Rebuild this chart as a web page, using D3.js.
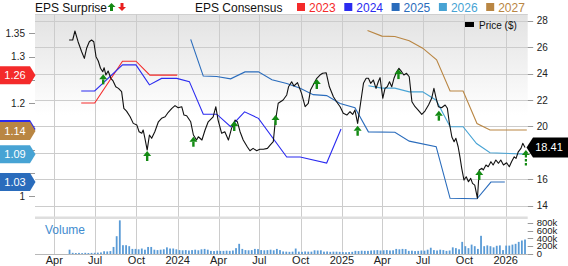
<!DOCTYPE html>
<html>
<head>
<meta charset="utf-8">
<script src="https://cdn.jsdelivr.net/npm/d3@7"></script>
<style>
  body { margin: 0; background: #fff; }
  svg text { font-family: "Liberation Sans", Arial, sans-serif; }
</style>
</head>
<body>
<div id="chart"></div>
<script>
// price (weekly-ish closes)
const priceDates = ["2023-05-04","2023-05-12","2023-05-17","2023-05-24","2023-06-01","2023-06-07","2023-06-12","2023-06-18","2023-06-23","2023-06-28",
  "2023-07-03","2023-07-08","2023-07-13","2023-07-18","2023-07-21","2023-07-25","2023-07-30","2023-08-05","2023-08-10","2023-08-16",
  "2023-08-22","2023-08-29","2023-09-03","2023-09-09","2023-09-17","2023-09-24","2023-10-02","2023-10-07","2023-10-13","2023-10-16",
  "2023-10-20","2023-10-25","2023-10-30","2023-11-04","2023-11-11","2023-11-19","2023-11-26","2023-12-04","2023-12-11","2023-12-19",
  "2023-12-26","2024-01-02","2024-01-10","2024-01-15","2024-01-21","2024-01-30","2024-02-05","2024-02-12","2024-02-16","2024-02-24",
  "2024-03-02","2024-03-09","2024-03-20","2024-03-26","2024-03-31","2024-04-08","2024-04-15","2024-04-23","2024-04-30","2024-05-08",
  "2024-05-13","2024-05-19","2024-05-26","2024-06-04","2024-06-10","2024-06-17","2024-06-25","2024-07-02","2024-07-10","2024-07-19",
  "2024-07-25","2024-08-01","2024-08-05","2024-08-12","2024-08-23","2024-08-31","2024-09-04","2024-09-11","2024-09-16","2024-09-24",
  "2024-10-03","2024-10-11","2024-10-18","2024-10-23","2024-10-31","2024-11-06","2024-11-13","2024-11-19","2024-11-27","2024-12-04",
  "2024-12-13","2024-12-20","2024-12-28","2025-01-04","2025-01-12","2025-01-19","2025-01-25","2025-01-30","2025-02-05","2025-02-12",
  "2025-02-18","2025-02-24","2025-03-01","2025-03-06","2025-03-12","2025-03-18","2025-03-23","2025-03-27","2025-04-02","2025-04-07",
  "2025-04-12","2025-04-17","2025-04-22","2025-04-27","2025-05-03","2025-05-08","2025-05-14","2025-05-19","2025-05-25","2025-05-31",
  "2025-06-06","2025-06-13","2025-06-20","2025-06-28","2025-07-05","2025-07-13","2025-07-20","2025-07-25","2025-07-30","2025-08-04",
  "2025-08-11","2025-08-19","2025-08-24","2025-08-28","2025-09-03","2025-09-08","2025-09-12","2025-09-17","2025-09-21","2025-09-25",
  "2025-09-30","2025-10-05","2025-10-10","2025-10-15","2025-10-19","2025-10-24","2025-10-30","2025-11-03","2025-11-09","2025-11-12",
  "2025-11-18","2025-11-23","2025-11-29","2025-12-04","2025-12-10","2025-12-16","2025-12-21","2025-12-27","2026-01-03","2026-01-09",
  "2026-01-14","2026-01-20","2026-01-24","2026-01-29","2026-02-04","2026-02-08","2026-02-13"];
const priceValues = [26.54,26.54,27.22,26.41,25.65,25.15,25.91,26.41,26.54,26.41,
  25.28,24.95,24.40,24.14,24.44,23.89,24.19,23.64,23.44,23.00,
  22.88,22.63,21.37,21.16,20.73,20.23,20.10,19.60,19.48,19.73,
  19.10,18.21,19.35,19.10,19.60,20.35,20.61,20.73,21.07,21.37,
  21.57,21.41,21.49,20.86,20.81,20.35,19.35,18.97,19.22,18.97,
  19.73,20.35,20.73,21.49,20.48,19.48,19.60,18.97,19.85,20.48,
  20.35,19.60,18.97,18.46,18.16,18.34,18.16,18.27,18.27,18.34,
  18.59,18.84,20.23,21.75,22.00,22.38,23.00,23.38,23.06,23.31,
  22.50,21.49,21.75,22.75,23.26,23.64,23.89,24.02,24.06,23.00,
  22.25,21.87,21.49,20.99,20.86,21.11,20.91,21.24,20.23,21.87,
  23.26,23.64,23.64,23.26,23.51,22.88,23.38,23.69,22.13,22.88,
  23.00,23.38,23.00,23.64,24.14,24.40,24.14,23.89,24.02,23.76,
  21.87,21.49,21.24,20.91,21.16,21.62,22.13,22.88,22.13,21.49,
  21.41,21.62,21.37,20.35,19.20,18.84,19.10,18.46,17.70,16.83,
  15.94,16.19,15.81,16.07,15.69,15.56,14.56,16.70,16.83,16.70,
  17.08,16.95,17.33,17.08,17.46,17.21,17.46,17.08,17.25,16.95,
  17.33,17.70,17.58,18.08,18.34,18.72,18.41];
const lastPrice = 18.41;

// EPS consensus revisions per fiscal year
const eps2023Dates = ["2023-05-31","2023-06-30","2023-08-31","2023-09-30","2023-10-31","2023-12-31"];
const eps2023 = [1.20,1.20,1.29,1.29,1.26,1.26];
const eps2024Dates = ["2023-05-31","2023-06-30","2023-08-31","2023-09-30","2023-10-30","2023-11-26","2023-12-30","2024-01-27","2024-02-27",
  "2024-03-28","2024-04-28","2024-05-29","2024-06-29","2024-08-31","2024-09-30","2024-11-28","2024-12-30"];
const eps2024 = [1.226,1.226,1.282,1.282,1.239,1.253,1.253,1.246,1.176,1.176,1.149,1.181,1.167,1.084,1.084,1.071,1.144];
const eps2025Dates = ["2024-01-30","2024-02-27","2024-03-28","2024-04-28","2024-05-30","2024-06-29","2024-07-29","2024-08-31","2024-09-30",
  "2024-10-29","2024-11-28","2024-12-28","2025-01-30","2025-03-01","2025-04-29","2025-05-31","2025-07-30","2025-08-30","2025-10-29",
  "2025-11-29","2025-12-30"];
const eps2025 = [1.337,1.258,1.257,1.252,1.267,1.267,1.25,1.242,1.232,1.218,1.216,1.199,1.19,1.138,1.137,1.118,1.106,0.995,0.994,1.03,1.03];
const eps2026Dates = ["2025-03-01","2025-03-31","2025-04-29","2025-05-31","2025-06-30","2025-07-30","2025-08-30","2025-09-28","2025-10-28",
  "2025-11-27","2026-02-17"];
const eps2026 = [1.237,1.232,1.232,1.224,1.224,1.206,1.149,1.149,1.113,1.093,1.09];
const eps2027Dates = ["2025-02-27","2025-03-31","2025-04-29","2025-05-31","2025-06-30","2025-07-31","2025-08-30","2025-09-28","2025-10-29",
  "2025-11-27","2026-02-17"];
const eps2027 = [1.356,1.344,1.343,1.334,1.318,1.293,1.226,1.226,1.156,1.142,1.142];

const seriesYears = ["2023","2024","2025","2026","2027"];
const seriesColors = ["#f42a2a","#2b2bf0","#2a6cbc","#47a3d4","#b98643"];

// latest consensus badges (drawn in this order; the 2024 one sits under 2027)
const badgeYears = ["2023","2024","2027","2026","2025"];
const badgeValues = [1.26,1.144,1.14,1.09,1.03];
const badgeLabels = ["1.26","1.14","1.14","1.09","1.03"];

// EPS beats (price level at report)
const surpriseDates = ["2023-07-19","2023-10-25","2024-02-05","2024-05-06","2024-08-06","2024-11-06","2025-02-05","2025-05-07","2025-08-05","2025-11-03"];
const surprisePrices = [23.94,18.14,19.22,20.41,20.86,23.59,20.05,24.34,21.19,16.70];
const nextReportDate = "2026-02-15";
const nextReportPrice = 18.21;

// weekly volume, starting week of 2023-05-05 (thousands)
const volumeStart = "2023-05-05";
const volumeK = [110,30,25,28,22,30,25,28,30,35,
  40,70,65,75,180,455,860,225,225,200,
  130,130,120,140,110,180,180,110,100,110,
  120,170,140,140,120,100,95,100,90,100,
  110,95,120,130,110,80,75,85,80,80,
  85,80,90,150,260,130,100,95,100,130,
  125,100,95,100,110,95,130,100,65,60,
  55,60,140,60,55,65,60,60,95,90,
  95,60,65,55,60,60,55,50,45,50,
  55,80,75,85,80,80,90,95,100,90,
  95,100,90,95,130,120,130,125,80,85,
  75,80,90,85,110,160,100,90,110,100,
  80,90,170,150,120,310,200,150,240,200,
  130,465,200,220,200,170,210,220,100,215,
  215,240,260,310,345,370];

// axes
const xTickDates = ["2023-04-01","2023-07-01","2023-10-01","2024-01-01","2024-04-01","2024-07-01","2024-10-01","2025-01-01",
  "2025-04-01","2025-07-01","2025-10-01","2026-01-01"];
const xTickLabels = ["Apr","Jul","Oct","2024","Apr","Jul","Oct","2025","Apr","Jul","Oct","2026"];
const priceTicks = [14,16,18,20,22,24,26,28];
const epsTicks = [1,1.05,1.1,1.15,1.2,1.25,1.3,1.35];
const volTicks = [0,200000,400000,600000,800000];
const volTickLabels = ["0","200k","400k","600k","800k"];

const width = 568, height = 266;
const plotL = 35, plotR = 527.7, plotT = 14;
const parse = d3.timeParse("%Y-%m-%d");

const svg = d3.select("#chart").append("svg")
  .attr("width", width).attr("height", height);

const x = d3.scaleTime()
  .domain([parse("2023-02-17"), parse("2026-02-19")])
  .range([plotL, plotR]);
const yPrice = d3.scaleLinear().domain([14, 28]).range([205.7, 20.7]);
const yEps = d3.scaleLinear().domain([1, 1.35]).range([196, 33.3]);
const yVol = d3.scaleLinear().domain([0, 800000]).range([254, 222.7]);

// background
const grad = svg.append("defs").append("linearGradient")
  .attr("id", "bg").attr("x1", 0).attr("y1", 0).attr("x2", 0).attr("y2", 1);
grad.append("stop").attr("offset", 0).attr("stop-color", "#e2e2e2");
grad.append("stop").attr("offset", 0.5).attr("stop-color", "#ffffff");

svg.append("rect").attr("x", plotL).attr("y", plotT)
  .attr("width", plotR - plotL).attr("height", 202)
  .attr("fill", "url(#bg)");
svg.append("line").attr("x1", plotL).attr("x2", plotR).attr("y1", plotT + 0.5).attr("y2", plotT + 0.5)
  .attr("stroke", "#cfcfcf");

// grid
svg.append("g").selectAll("line").data(priceTicks).join("line")
  .attr("x1", plotL).attr("x2", plotR)
  .attr("y1", d => Math.round(yPrice(d)) + 0.5).attr("y2", d => Math.round(yPrice(d)) + 0.5)
  .attr("stroke", "#cccccc");
svg.append("g").selectAll("line").data(xTickDates).join("line")
  .attr("x1", d => Math.round(x(parse(d))) + 0.5).attr("x2", d => Math.round(x(parse(d))) + 0.5)
  .attr("y1", plotT).attr("y2", 254)
  .attr("stroke", "#cccccc");

// volume panel separator
svg.append("rect").attr("x", plotL).attr("y", 216.5).attr("width", plotR - plotL).attr("height", 2.5)
  .attr("fill", "#dedede");
svg.append("line").attr("x1", plotL).attr("x2", plotR).attr("y1", 254.5).attr("y2", 254.5)
  .attr("stroke", "#b8b8b8");

// volume bars
const vStart = parse(volumeStart);
svg.append("g").selectAll("rect").data(volumeK).join("rect")
  .attr("x", (d, i) => x(d3.timeWeek.offset(vStart, i)) - 0.9)
  .attr("width", 1.8)
  .attr("y", d => yVol(d * 1000))
  .attr("height", d => yVol(0) - yVol(d * 1000))
  .attr("fill", "#5a9bd6");

svg.append("text").attr("x", 45).attr("y", 233.5)
  .attr("font-size", 12).attr("fill", "#3f8ccf").text("Volume");

// EPS consensus lines
const epsSeries = [
  [eps2023Dates, eps2023], [eps2024Dates, eps2024], [eps2025Dates, eps2025],
  [eps2026Dates, eps2026], [eps2027Dates, eps2027]
];
const epsLine = d3.line().x(d => x(d[0])).y(d => yEps(d[1]));
epsSeries.forEach(([dates, vals], k) => {
  svg.append("path")
    .datum(dates.map((d, i) => [parse(d), vals[i]]))
    .attr("fill", "none")
    .attr("stroke", seriesColors[k])
    .attr("stroke-width", 1.1)
    .attr("d", epsLine);
});

// price line
const priceLine = d3.line().x(d => x(d[0])).y(d => yPrice(d[1]));
svg.append("path")
  .datum(priceDates.map((d, i) => [parse(d), priceValues[i]]))
  .attr("fill", "none").attr("stroke", "#111")
  .attr("stroke-width", 1.1).attr("stroke-linejoin", "round")
  .attr("d", priceLine);

// surprise arrows
function upArrow(g, cx, tip, dashed) {
  g.append("path")
    .attr("d", `M${cx},${tip}L${cx + 4},${tip + 5}H${cx - 4}Z`)
    .attr("fill", "#138a13");
  if (dashed) {
    g.append("line").attr("x1", cx).attr("x2", cx).attr("y1", tip + 5).attr("y2", tip + 17)
      .attr("stroke", "#138a13").attr("stroke-width", 2.2).attr("stroke-dasharray", "2.5,1.5");
  } else {
    g.append("rect").attr("x", cx - 1.2).attr("y", tip + 5).attr("width", 2.4).attr("height", 5)
      .attr("fill", "#138a13");
  }
}
const arrows = svg.append("g");
surpriseDates.forEach((d, i) => upArrow(arrows, x(parse(d)), yPrice(surprisePrices[i]), false));
upArrow(arrows, x(parse(nextReportDate)), yPrice(nextReportPrice), true);

// right price axis (label under the last-price badge stays hidden)
const py = yPrice(lastPrice);
const rAxis = svg.append("g");
rAxis.selectAll("line").data(priceTicks).join("line")
  .attr("x1", plotR).attr("x2", plotR + 5.5)
  .attr("y1", d => Math.round(yPrice(d)) + 0.5).attr("y2", d => Math.round(yPrice(d)) + 0.5)
  .attr("stroke", "#999");
rAxis.selectAll("text").data(priceTicks.filter(d => Math.abs(yPrice(d) - py) > 10)).join("text")
  .attr("x", plotR + 9).attr("y", d => yPrice(d) + 3.6)
  .attr("font-size", 10).attr("fill", "#222").text(d => d);

// volume axis
const vAxis = svg.append("g");
vAxis.selectAll("line").data(volTicks).join("line")
  .attr("x1", plotR).attr("x2", plotR + 5.5)
  .attr("y1", d => Math.round(yVol(d)) + 0.5).attr("y2", d => Math.round(yVol(d)) + 0.5)
  .attr("stroke", "#999");
vAxis.selectAll("text").data(volTicks).join("text")
  .attr("x", plotR + 9).attr("y", d => yVol(d) + 3.3)
  .attr("font-size", 9.5).attr("fill", "#222").text((d, i) => volTickLabels[i]);

// left EPS axis (labels covered by badges stay hidden)
const lAxis = svg.append("g");
lAxis.selectAll("line").data(epsTicks).join("line")
  .attr("x1", plotL - 6).attr("x2", plotL)
  .attr("y1", d => Math.round(yEps(d)) + 0.5).attr("y2", d => Math.round(yEps(d)) + 0.5)
  .attr("stroke", "#999");
lAxis.selectAll("text")
  .data(epsTicks.filter(d => !badgeValues.some(v => Math.abs(yEps(v) - yEps(d)) < 10)))
  .join("text")
  .attr("x", 25).attr("y", d => yEps(d) + 3.6).attr("text-anchor", "end")
  .attr("font-size", 10).attr("fill", "#222").text(d => d);

// x axis labels
svg.append("g").selectAll("text").data(xTickDates).join("text")
  .attr("x", d => x(parse(d))).attr("y", 263.5).attr("text-anchor", "middle")
  .attr("font-size", 11).attr("fill", "#222")
  .text((d, i) => xTickLabels[i]);

// left badges
badgeValues.forEach((v, i) => {
  const y = yEps(v);
  const c = seriesColors[seriesYears.indexOf(badgeYears[i])];
  svg.append("path")
    .attr("d", `M0,${y - 9}H30L35.5,${y}L30,${y + 9}H0Z`)
    .attr("fill", c);
  const covered = badgeValues.slice(i + 1).some(w => Math.abs(yEps(w) - y) < 6);
  if (!covered) {
    svg.append("text").attr("x", 15).attr("y", y + 4).attr("text-anchor", "middle")
      .attr("font-size", 11).attr("fill", "#fff").text(badgeLabels[i]);
  }
});

// last price badge
svg.append("path")
  .attr("d", `M526.5,${py}L533,${py - 10}H568V${py + 10}H533Z`)
  .attr("fill", "#000");
svg.append("text").attr("x", 549).attr("y", py + 4).attr("text-anchor", "middle")
  .attr("font-size", 11).attr("fill", "#fff").text(lastPrice.toFixed(2));

// header
svg.append("text").attr("x", 35).attr("y", 11.5).attr("font-size", 12).attr("fill", "#111").text("EPS Surprise");
svg.append("path").attr("d", "M111.5,3L115.5,7H113V11H110V7H107.5Z").attr("fill", "#138a13");
svg.append("path").attr("d", "M122,11L126,7H123.5V3H120.5V7H118Z").attr("fill", "#e81e1e");

svg.append("text").attr("x", 195).attr("y", 11.5).attr("font-size", 12).attr("fill", "#111").text("EPS Consensus");
const leg = svg.append("g");
seriesYears.forEach((yr, i) => {
  const lx = 297 + i * 47.3;
  leg.append("rect").attr("x", lx).attr("y", 3).attr("width", 8).attr("height", 8).attr("fill", seriesColors[i]);
  leg.append("text").attr("x", lx + 12).attr("y", 11.5).attr("font-size", 12)
    .attr("fill", seriesColors[i]).text(yr);
});

// price legend
svg.append("rect").attr("x", 465).attr("y", 22).attr("width", 9).attr("height", 5).attr("fill", "#000");
svg.append("text").attr("x", 479).attr("y", 28.5).attr("font-size", 10).attr("fill", "#111").text("Price ($)");
</script>
</body>
</html>
